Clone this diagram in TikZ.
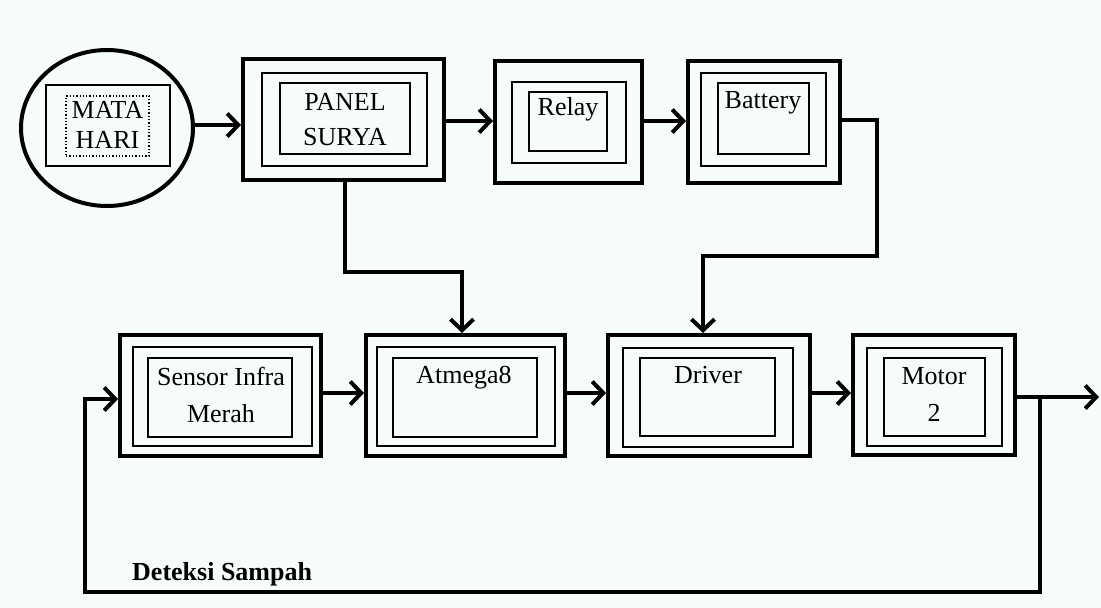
\documentclass[tikz,border=0pt]{standalone}
\usepackage{fontspec}
\setmainfont{Liberation Serif}
\usetikzlibrary{arrows.meta,shapes.geometric}
\definecolor{bgcol}{rgb}{0.965,0.985,0.99}
\tikzset{
  outerbox/.style={draw, line width=4pt, rectangle, inner sep=0pt},
  midbox/.style={draw, line width=2.8pt, rectangle, inner sep=0pt},
  innerbox/.style={draw, line width=2pt, rectangle, inner sep=0pt},
  lbl/.style={inner sep=0pt, anchor=base, font=\fontsize{26}{32}\selectfont},
  conn/.style={line width=4pt, line join=miter, -{Straight Barb[length=11pt,width=23pt,line width=4pt]}},
  wire/.style={line width=4pt, line join=miter},
}
\begin{document}
\begin{tikzpicture}[x=1pt,y=-1pt]
\useasboundingbox[fill=bgcol] (0,0) rectangle (1101,608);

% MATA HARI
\node[draw, line width=4pt, ellipse, minimum width=172pt, minimum height=156pt, inner sep=0pt] (sun) at (107,128) {};
\node[draw, line width=1.5pt, minimum width=124pt, minimum height=81pt, inner sep=0pt] (sunbox) at (108,125.5) {};
\node[draw, line width=1.3pt, dotted, minimum width=83pt, minimum height=60pt, inner sep=0pt] (sunin) at (107.5,126) {};
\node[lbl] (suntxt1) at (107.5,118) {MATA};
\node[lbl] (suntxt2) at (107.5,148) {HARI};

% PANEL SURYA
\node[outerbox, minimum width=201pt, minimum height=121pt] (panel) at (343.5,119.5) {};
\node[midbox, minimum width=165pt, minimum height=93pt] (panelm) at (344.5,119.5) {};
\node[innerbox, minimum width=130pt, minimum height=71pt] (paneli) at (345,118.5) {};
\node[lbl] (paneltxt1) at (345,110) {PANEL};
\node[lbl] (paneltxt2) at (345,145) {SURYA};

% Relay
\node[outerbox, minimum width=147pt, minimum height=122pt] (relay) at (568.5,122) {};
\node[midbox, minimum width=114pt, minimum height=81pt] (relaym) at (569,122.5) {};
\node[innerbox, minimum width=78pt, minimum height=59pt] (relayi) at (568,121.5) {};
\node[lbl] (relaytxt) at (568,115) {Relay};

% Battery
\node[outerbox, minimum width=152pt, minimum height=122pt] (batt) at (764,122) {};
\node[midbox, minimum width=125pt, minimum height=93pt] (battm) at (763.5,119.5) {};
\node[innerbox, minimum width=91pt, minimum height=71pt] (batti) at (763.5,118.5) {};
\node[lbl] (batttxt) at (763,108) {Battery};

% Sensor Infra Merah
\node[outerbox, minimum width=201pt, minimum height=121pt] (sensor) at (220.5,395.5) {};
\node[midbox, minimum width=179pt, minimum height=99pt] (sensorm) at (222.5,396.5) {};
\node[innerbox, minimum width=144pt, minimum height=79pt] (sensori) at (220,397.5) {};
\node[lbl] (sensortxt1) at (221,385) {Sensor Infra};
\node[lbl] (sensortxt2) at (221,422) {Merah};

% Atmega8
\node[outerbox, minimum width=199pt, minimum height=121pt] (atm) at (465.5,395.5) {};
\node[midbox, minimum width=178pt, minimum height=99pt] (atmm) at (466,396.5) {};
\node[innerbox, minimum width=144pt, minimum height=79pt] (atmi) at (465,397.5) {};
\node[lbl] (atmtxt) at (464,383) {Atmega8};

% Driver
\node[outerbox, minimum width=202pt, minimum height=121pt] (drv) at (709,395.5) {};
\node[midbox, minimum width=170pt, minimum height=99pt] (drvm) at (708,397.5) {};
\node[innerbox, minimum width=135pt, minimum height=78pt] (drvi) at (707.5,397) {};
\node[lbl] (drvtxt) at (708,383) {Driver};

% Motor 2
\node[outerbox, minimum width=162pt, minimum height=120pt] (motor) at (934,395) {};
\node[midbox, minimum width=135pt, minimum height=98pt] (motorm) at (934.5,397) {};
\node[innerbox, minimum width=101pt, minimum height=78pt] (motori) at (934.5,396.5) {};
\node[lbl] (motortxt1) at (934,384) {Motor};
\node[lbl] (motortxt2) at (934,421) {2};

% coordinates
\coordinate (pdn) at (345,272);
\coordinate (pdr) at (462,272);
\coordinate (bto) at (877,120);
\coordinate (bdn) at (877,256);
\coordinate (bdl) at (703,256);
\coordinate (mj) at (1040,397);
\coordinate (mout) at (1099,397);
\coordinate (fbr) at (1040,592);
\coordinate (fbl) at (85,592);
\coordinate (fbu) at (85,399);

% connectors
\draw[conn] (sun.east |- 0,125) -- (panel.west |- 0,125);
\draw[conn] (panel.east |- 0,121) -- (relay.west |- 0,121);
\draw[conn] (relay.east |- 0,121) -- (batt.west |- 0,121);
\draw[conn] (panel.south -| pdn) -- (pdn) -- (pdr) -- (pdr |- atm.north);
\draw[conn] (batt.east |- bto) -- (bto) -- (bdn) -- (bdl) -- (bdl |- drv.north);
\draw[conn] (sensor.east |- 0,393) -- (atm.west |- 0,393);
\draw[conn] (atm.east |- 0,393) -- (drv.west |- 0,393);
\draw[conn] (drv.east |- 0,393) -- (motor.west |- 0,393);
\draw[conn] (motor.east |- mj) -- (mout);
\draw[conn] (mj) -- (fbr) -- (fbl) -- (fbu) -- (sensor.west |- fbu);

\node[inner sep=0pt, anchor=base west, font=\fontsize{26}{30}\selectfont\bfseries] (det) at (132,580) {Deteksi Sampah};
\end{tikzpicture}
\end{document}
